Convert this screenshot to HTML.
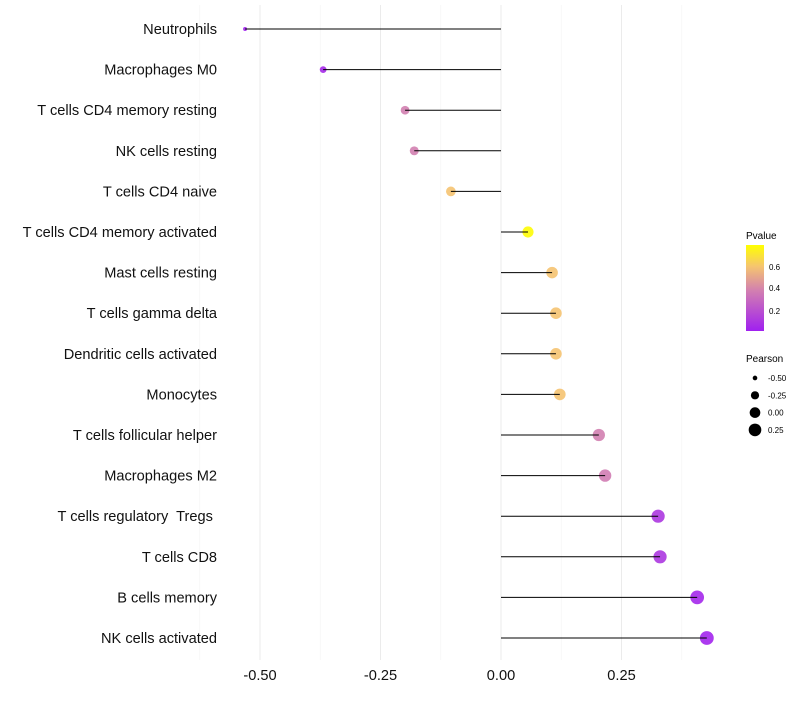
<!DOCTYPE html>
<html><head><meta charset="utf-8"><style>
body{margin:0;background:#fff;font-family:"Liberation Sans",sans-serif}
text{white-space:pre}
</style></head><body>
<svg id="chart" width="800" height="700" xmlns="http://www.w3.org/2000/svg">
<defs><linearGradient id="pg" x1="0" y1="1" x2="0" y2="0">
<stop offset="0" stop-color="#a020f0"/><stop offset="0.47" stop-color="#d27fb0"/><stop offset="0.75" stop-color="#f5c470"/><stop offset="1" stop-color="#ffff00"/></linearGradient></defs>
<g id="grid"></g>
<g id="marks"></g>
<g id="axes"></g>
<g>
<text x="746" y="239" font-size="10" fill="#000">Pvalue</text>
<rect x="746" y="245" width="18" height="86" fill="url(#pg)"/>
<text x="769" y="270" font-size="8">0.6</text>
<text x="769" y="291" font-size="8">0.4</text>
<text x="769" y="314" font-size="8">0.2</text>
</g>
<g id="sizeleg">
<text x="746" y="362" font-size="10">Pearson</text>
</g>
</svg>
<script>
const categories=["Neutrophils","Macrophages M0","T cells CD4 memory resting","NK cells resting","T cells CD4 naive","T cells CD4 memory activated","Mast cells resting","T cells gamma delta","Dendritic cells activated","Monocytes","T cells follicular helper","Macrophages M2","T cells regulatory  Tregs ","T cells CD8","B cells memory","NK cells activated"];
const pearson=[-0.531,-0.369,-0.199,-0.180,-0.104,0.056,0.106,0.114,0.114,0.122,0.203,0.216,0.326,0.330,0.407,0.427];
const pvalues=[0.02,0.05,0.38,0.38,0.6,0.79,0.6,0.6,0.6,0.6,0.38,0.37,0.1,0.1,0.04,0.03];
const xTicks=[-0.5,-0.25,0,0.25];
const xTickLabels=["-0.50","-0.25","0.00","0.25"];
const sizeLegendVals=[-0.5,-0.25,0,0.25];
const sizeLegendLabels=["-0.50","-0.25","0.00","0.25"];
const NS="http://www.w3.org/2000/svg";
const x=v=>501+v*482;
const y=i=>29+i*40.6;
const r=v=>Math.sqrt(4+(v+0.53)*46);
function col(p){const t=Math.max(0,Math.min(1,(p-0.01)/0.79));
const st=[[0,[160,32,240]],[0.47,[210,127,176]],[0.75,[245,196,112]],[1,[255,255,0]]];
for(let k=1;k<st.length;k++){if(t<=st[k][0]){const a=st[k-1],b=st[k],f=(t-a[0])/(b[0]-a[0]);return "rgb("+a[1].map((c,j)=>Math.round(c+(b[1][j]-c)*f)).join(",")+")";}}return "rgb(255,255,0)";}
function mk(tag,at,parent){const e=document.createElementNS(NS,tag);for(const k in at)e.setAttribute(k,at[k]);parent.appendChild(e);return e;}
const grid=document.getElementById('grid'),marks=document.getElementById('marks'),axes=document.getElementById('axes');
[-0.625,-0.375,-0.125,0.125,0.375].forEach(v=>{const l=mk('line',{x1:x(v),x2:x(v),y1:5,y2:660,stroke:'#f4f4f4','stroke-width':0.6},grid);

});
xTicks.forEach((v,i)=>{const l=mk('line',{x1:x(v),x2:x(v),y1:5,y2:660,stroke:'#ebebeb','stroke-width':1},grid);


const t=mk('text',{x:x(v),y:680,'font-size':14.6,'text-anchor':'middle',fill:'#111'},axes);t.textContent=xTickLabels[i];

});
categories.forEach((c,i)=>{const t=mk('text',{x:217,y:y(i)+5,'font-size':14.6,'text-anchor':'end',fill:'#111'},axes);t.textContent=c;


const d=mk('circle',{cx:x(pearson[i]),cy:y(i),r:r(pearson[i]),fill:col(pvalues[i]),'fill-opacity':0.9},marks);


const l=mk('line',{x1:x(0),x2:x(pearson[i]),y1:y(i),y2:y(i),stroke:'#000','stroke-width':1},marks);

});
const sl=document.getElementById('sizeleg');
sizeLegendVals.forEach((v,i)=>{const cy=378+i*17.3;const c=mk('circle',{cx:755,cy:cy,r:r(v),fill:'#000'},sl);


const t=mk('text',{x:768,y:cy+3,'font-size':8},sl);t.textContent=sizeLegendLabels[i];

});
</script>
</body></html>
